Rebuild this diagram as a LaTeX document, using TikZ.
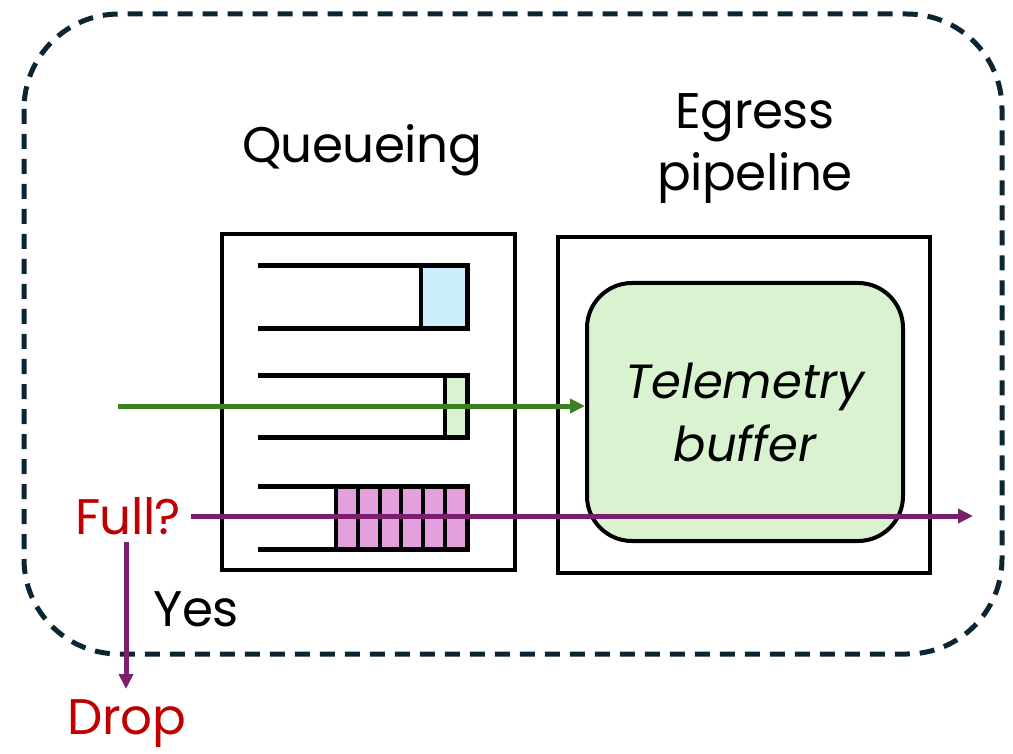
\documentclass[tikz,border=0pt]{standalone}
\usepackage{fontspec}
\setmainfont{Poppins}
\usetikzlibrary{arrows.meta}
\definecolor{navy}{HTML}{0D2533}
\definecolor{qblue}{HTML}{CDEEFB}
\definecolor{qgreen}{HTML}{D9F2D0}
\definecolor{qpink}{HTML}{E4A0DC}
\definecolor{arrgreen}{HTML}{3D7F23}
\definecolor{arrpurple}{HTML}{7A1F6E}
\definecolor{alertred}{HTML}{C00000}
\tikzset{
  box/.style={draw=black, line width=4pt},
  qline/.style={draw=black, line width=5pt},
  cell/.style={draw=black, line width=4pt},
  big/.style={font=\fontsize{50}{62}\selectfont\addfontfeature{LetterSpace=-1}},
  flow/.style={line width=5pt, -{Triangle[length=15pt,width=14pt]}},
}
\begin{document}
\begin{tikzpicture}[x=1pt,y=-1pt]
\useasboundingbox (0,0) rectangle (1013,754);

% outer switch boundary
\draw[navy, line width=5pt, dash pattern=on 15pt off 10pt, rounded corners=95pt]
  (24,14) rectangle (1002,654);

% stage titles
\node[big] (qtitle) at (362,150) {Queueing};
\node[big, align=center] (etitle) at (755,149) {Egress\\pipeline};

% queueing block
\node[box, minimum width=293pt, minimum height=336pt, inner sep=0pt] (qbox) at (368.5,402) {};

% queue 1: one blue packet
\fill[qblue] (421,266) rectangle (467,329);
\draw[cell] (421,266) -- (421,329);
\draw[qline] (258,266) -- (467,266) -- (467,329) -- (258,329);

% queue 2: one green packet
\fill[qgreen] (445,375) rectangle (467,437);
\draw[cell] (445,375) -- (445,437);
\draw[qline] (258,375) -- (467,375) -- (467,437) -- (258,437);

% queue 3: full of pink packets
\fill[qpink] (336,486) rectangle (467,549);
\foreach \i in {0,...,5} {
  \draw[cell] ({336+\i*21.8},486) -- ({336+\i*21.8},549);
}
\draw[qline] (258,486) -- (467,486) -- (467,549) -- (258,549);

% egress pipeline block
\node[box, minimum width=372pt, minimum height=336pt, inner sep=0pt] (ebox) at (744,405) {};
\node[draw=black, line width=4pt, fill=qgreen, rounded corners=45pt,
      minimum width=316pt, minimum height=258pt, align=center,
      font=\fontsize{48}{63}\selectfont\itshape] (buf) at (745,412) {Telemetry\\buffer};

% labels
\node[big, text=alertred] (full) at (128,516) {Full?};
\node[big] (yes) at (196,609) {Yes};
\node[big, text=alertred, inner sep=0pt] (drop) at (127,724) {Drop};

% flows
\coordinate (gin) at (118,406);
\draw[flow, arrgreen] (gin) -- (buf.west |- gin);

\coordinate (pout) at (973,516);
\draw[flow, arrpurple] (full.east |- pout) ++(6,0) -- (pout);
\draw[flow, arrpurple] (full.south -| 126,0) ++(0,4) -- (126,689);
\end{tikzpicture}
\end{document}
